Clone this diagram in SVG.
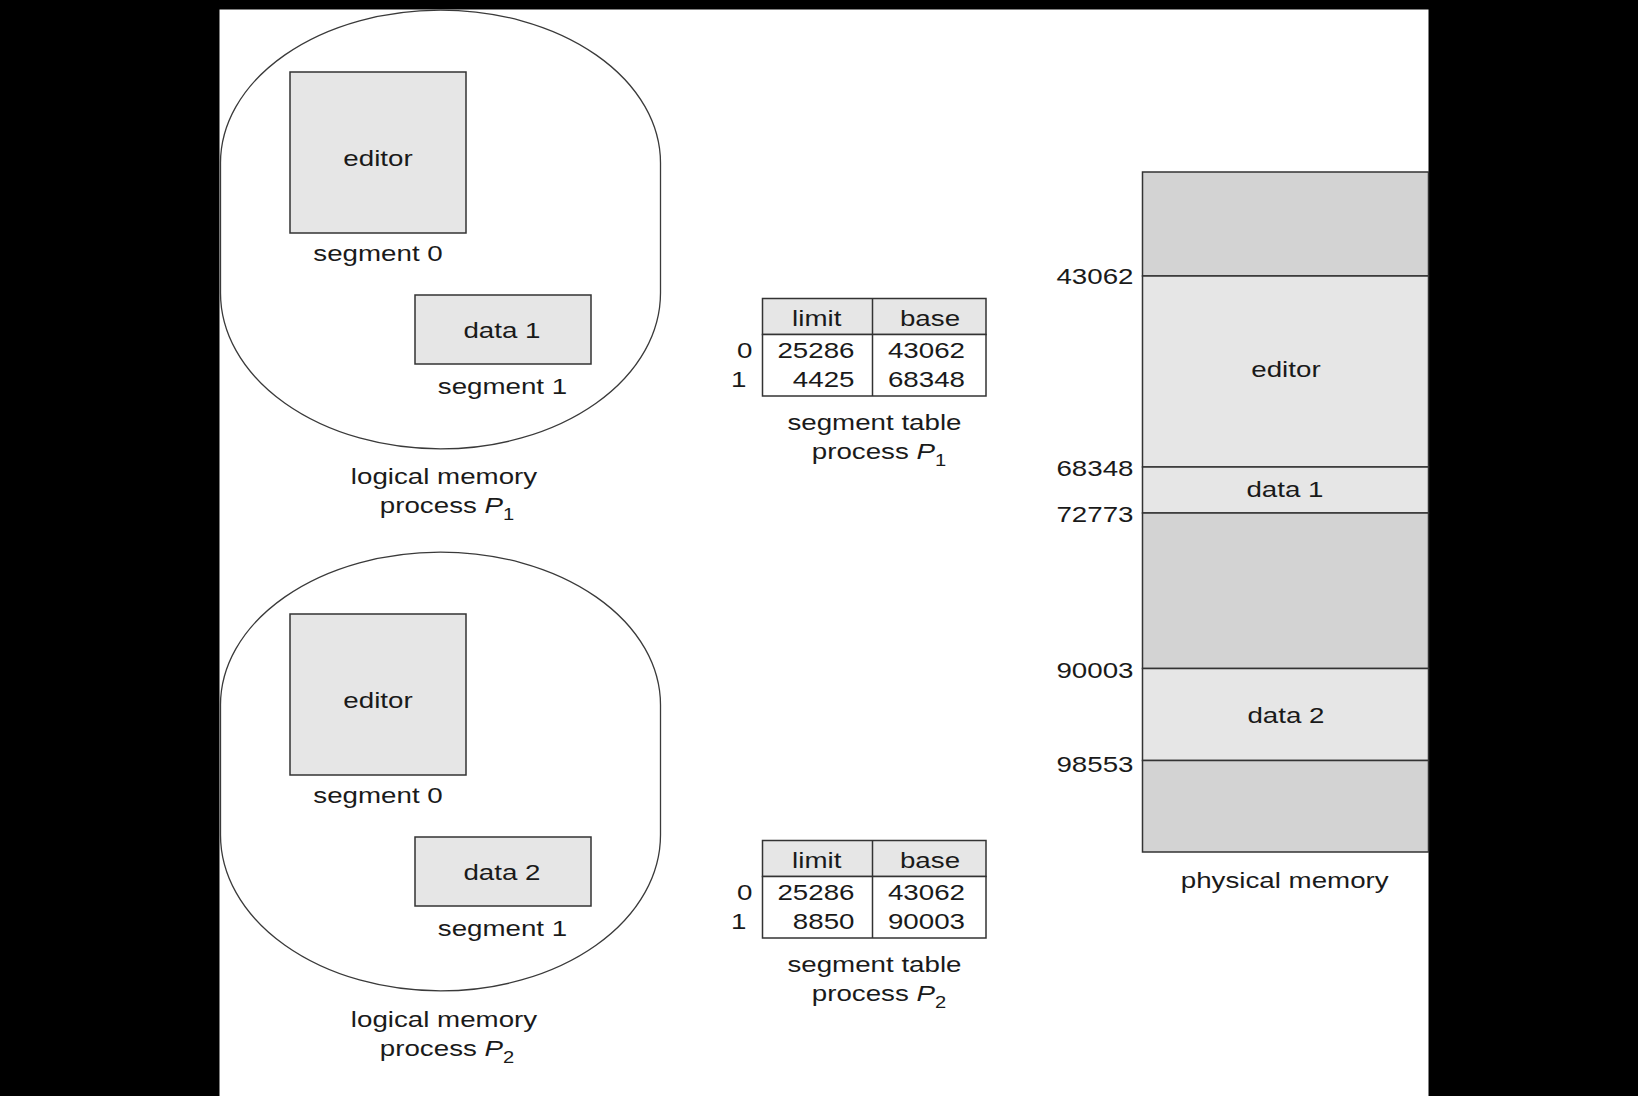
<svg xmlns="http://www.w3.org/2000/svg" width="1638" height="1096" viewBox="0 0 1638 1096">
  <style>
    .panel { fill: #ffffff; }
    .blob { fill: none; stroke: #3a3a3a; stroke-width: 1.3; }
    .box { fill: #e6e6e6; stroke: #333333; stroke-width: 1.5; }
    .free { fill: #d3d3d3; stroke: #333333; stroke-width: 1.5; }
    .used { fill: #e6e6e6; stroke: #333333; stroke-width: 1.5; }
    .hdr { fill: #e6e6e6; stroke: #333333; stroke-width: 1.5; }
    .cell { fill: #ffffff; stroke: #333333; stroke-width: 1.5; }
    .rule { stroke: #333333; stroke-width: 1.5; }
    text { font-family: "Liberation Sans", Arial, Helvetica, sans-serif; font-size: 22px; fill: #1a1a1a; }
    .c { text-anchor: middle; }
    .e { text-anchor: end; }
    .it { font-style: italic; }
    .sub { font-size: 16px; }
  </style>

  <!-- page background and white sheet -->
  <rect x="0" y="0" width="1638" height="1096" fill="#000000"/>
  <rect class="panel" x="219.5" y="9.5" width="1209" height="1087"/>

  <!-- logical memory of process P1 -->
  <g id="logical-p1">
    <path class="blob" d="M 220.5 163 A 220 153 0 0 1 660.5 163 L 660.5 293 A 220 156 0 0 1 220.5 293 Z"/>
    <rect class="box" x="290" y="72" width="176" height="161"/>
    <rect class="box" x="415" y="295" width="176" height="69"/>
  </g>

  <!-- logical memory of process P2 -->
  <g id="logical-p2">
    <path class="blob" d="M 220.5 705 A 220 153 0 0 1 660.5 705 L 660.5 835 A 220 156 0 0 1 220.5 835 Z"/>
    <rect class="box" x="290" y="614" width="176" height="161"/>
    <rect class="box" x="415" y="837" width="176" height="69"/>
  </g>

  <!-- segment table of process P1 -->
  <g id="table-p1">
    <rect class="hdr" x="762.5" y="298.5" width="223.5" height="36"/>
    <rect class="cell" x="762.5" y="334.5" width="223.5" height="61.5"/>
    <line class="rule" x1="872.5" y1="298.5" x2="872.5" y2="396"/>
  </g>

  <!-- segment table of process P2 -->
  <g id="table-p2">
    <rect class="hdr" x="762.5" y="840.5" width="223.5" height="36"/>
    <rect class="cell" x="762.5" y="876.5" width="223.5" height="61.5"/>
    <line class="rule" x1="872.5" y1="840.5" x2="872.5" y2="938"/>
  </g>

  <!-- physical memory column -->
  <g id="physical-memory">
    <rect class="free" x="1142.5" y="172" width="286" height="104"/>
    <rect class="used" x="1142.5" y="276" width="286" height="191"/>
    <rect class="used" x="1142.5" y="467" width="286" height="46"/>
    <rect class="free" x="1142.5" y="513" width="286" height="155.5"/>
    <rect class="used" x="1142.5" y="668.5" width="286" height="92"/>
    <rect class="free" x="1142.5" y="760.5" width="286" height="91.5"/>
  </g>

  <g id="connectors"/>

  <!-- all labels; glyphs are set 1.26x wide, so x positions are divided by 1.26 -->
  <g id="labels" transform="scale(1.26 1)">
    <!-- P1 logical memory -->
    <text class="c" x="300" y="166">editor</text>
    <text class="c" x="300" y="261">segment 0</text>
    <text class="c" x="398.4" y="338">data 1</text>
    <text class="c" x="398.8" y="394">segment 1</text>
    <text class="c" x="352.4" y="484">logical memory</text>
    <text class="c" x="354.8" y="513">process <tspan class="it">P</tspan><tspan class="sub" dy="7">1</tspan></text>

    <!-- P2 logical memory -->
    <text class="c" x="300" y="708">editor</text>
    <text class="c" x="300" y="803">segment 0</text>
    <text class="c" x="398.4" y="880">data 2</text>
    <text class="c" x="398.8" y="936">segment 1</text>
    <text class="c" x="352.4" y="1027">logical memory</text>
    <text class="c" x="354.8" y="1056">process <tspan class="it">P</tspan><tspan class="sub" dy="7">2</tspan></text>

    <!-- P1 segment table -->
    <text class="c" x="648.2" y="326">limit</text>
    <text class="c" x="738.1" y="326">base</text>
    <text class="e" x="597.2" y="358">0</text>
    <text class="e" x="592.4" y="387">1</text>
    <text class="e" x="678.2" y="358">25286</text>
    <text class="e" x="678.2" y="387">4425</text>
    <text class="c" x="735.3" y="358">43062</text>
    <text class="c" x="735.3" y="387">68348</text>
    <text class="c" x="694" y="430.5">segment table</text>
    <text class="c" x="697.6" y="459">process <tspan class="it">P</tspan><tspan class="sub" dy="7">1</tspan></text>

    <!-- P2 segment table -->
    <text class="c" x="648.2" y="868">limit</text>
    <text class="c" x="738.1" y="868">base</text>
    <text class="e" x="597.2" y="900">0</text>
    <text class="e" x="592.4" y="929">1</text>
    <text class="e" x="678.2" y="900">25286</text>
    <text class="e" x="678.2" y="929">8850</text>
    <text class="c" x="735.3" y="900">43062</text>
    <text class="c" x="735.3" y="929">90003</text>
    <text class="c" x="694" y="972.5">segment table</text>
    <text class="c" x="697.6" y="1001">process <tspan class="it">P</tspan><tspan class="sub" dy="7">2</tspan></text>

    <!-- physical memory -->
    <text class="e" x="899.6" y="284">43062</text>
    <text class="e" x="899.6" y="476">68348</text>
    <text class="e" x="899.6" y="522">72773</text>
    <text class="e" x="899.6" y="678">90003</text>
    <text class="e" x="899.6" y="772">98553</text>
    <text class="c" x="1020.6" y="377">editor</text>
    <text class="c" x="1019.8" y="497">data 1</text>
    <text class="c" x="1020.6" y="723">data 2</text>
    <text class="c" x="1019.6" y="888">physical memory</text>
  </g>
</svg>
